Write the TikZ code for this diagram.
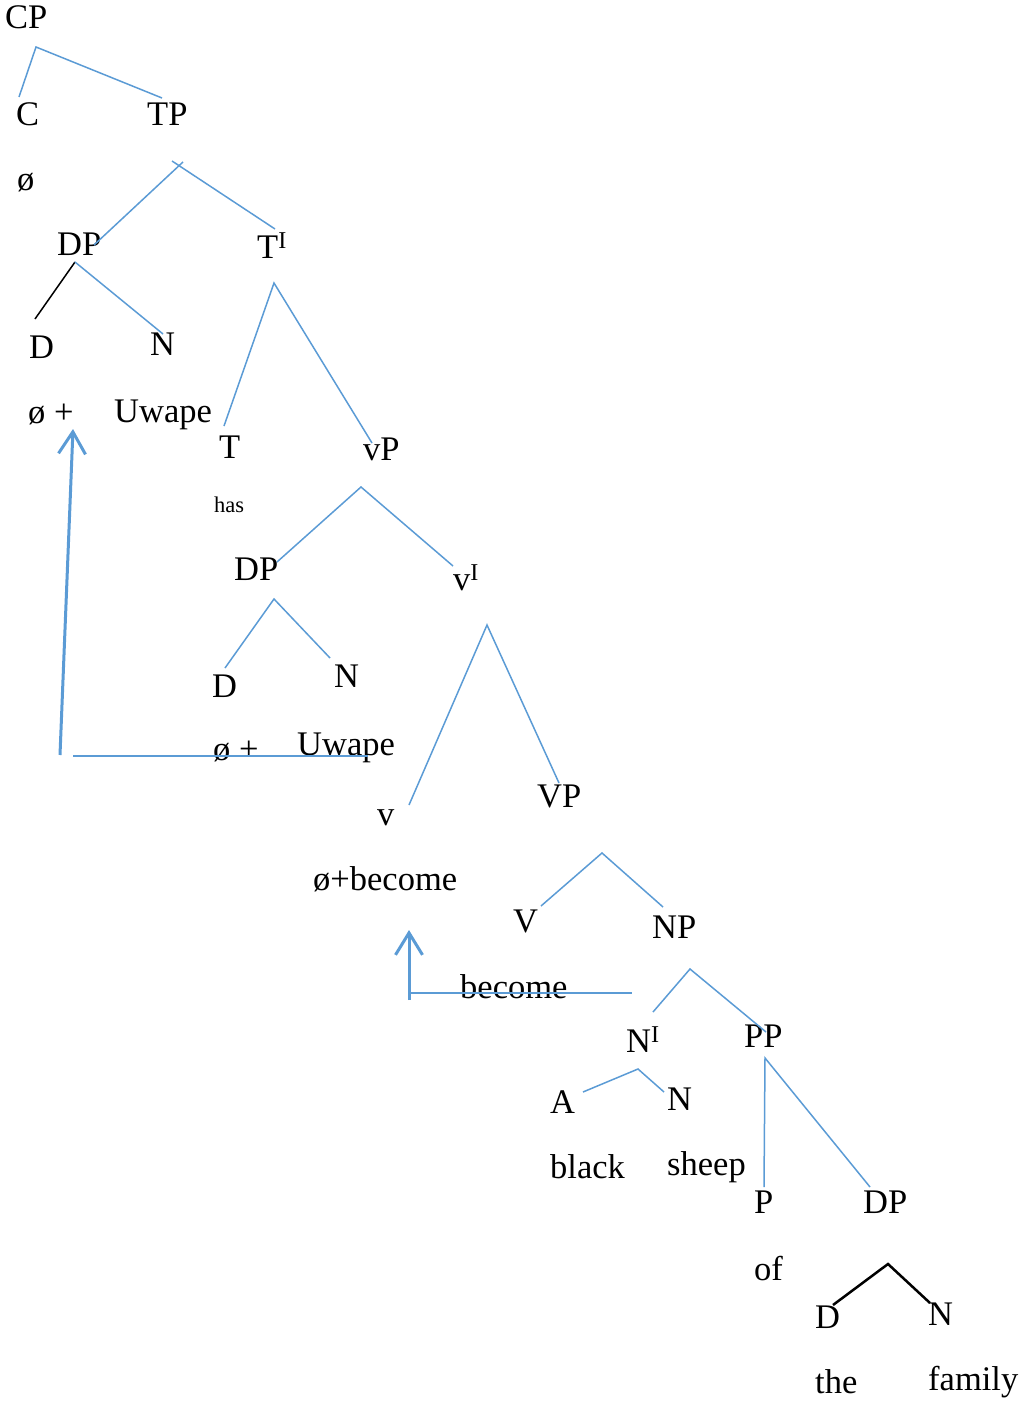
\documentclass[tikz,border=0pt]{standalone}
\usepackage{fontspec}
\setmainfont{Liberation Serif}
\usepackage{xcolor}
\usepackage{tikz}
\usetikzlibrary{arrows.meta, calc, positioning}
\definecolor{treeblue}{HTML}{5B9BD5}

\begin{document}
\begin{tikzpicture}[x=1pt, y=-1pt,
  lbl/.style={anchor=base west, inner sep=0pt, font=\fontsize{34.5}{40}\selectfont},
  smalllbl/.style={lbl, font=\fontsize{22.5}{26}\selectfont},
  branch/.style={treeblue, line width=1.5pt},
  blackbranch/.style={black, line width=1.5pt},
  movebar/.style={treeblue, line width=3pt},
  traceline/.style={treeblue, line width=2pt},
  movetip/.style={-{Straight Barb[length=22pt,width=27pt]}}]
\useasboundingbox (0,0) rectangle (1022,1402);

% Labels
\node[lbl] (cp) at (5,29) {CP};
\node[lbl] (c) at (16,125) {C};
\node[lbl] (tp) at (147,125) {TP};
\node[lbl] (cnull) at (17,190) {ø};
\node[lbl] (dp1) at (57,255) {DP};
\node[lbl] (tbar) at (257,258) {T\textsuperscript{I}};
\node[lbl] (d1) at (29,358) {D};
\node[lbl] (n1) at (150,355) {N};
\node[lbl] (dnull1) at (28,423) {ø +};
\node[lbl] (uwape1) at (114,422) {Uwape};
\node[lbl] (t) at (219,458) {T};
\node[lbl] (littlevp) at (363,460) {vP};
\node[smalllbl] (has) at (214,512) {has};
\node[lbl] (dp2) at (234,580) {DP};
\node[lbl] (vbar) at (453,590) {v\textsuperscript{I}};
\node[lbl] (d2) at (212,697) {D};
\node[lbl] (n2) at (334,687) {N};
\node[lbl] (dnull2) at (213,760) {ø +};
\node[lbl] (uwape2) at (297,755) {Uwape};
\node[lbl] (vhead) at (377,825) {v};
\node[lbl] (bigvp) at (537,807) {VP};
\node[lbl] (vnull) at (313,890) {ø+become};
\node[lbl] (bigv) at (513,932) {V};
\node[lbl] (np) at (652,938) {NP};
\node[lbl] (become) at (460,998) {become};
\node[lbl] (nbar) at (626,1052) {N\textsuperscript{I}};
\node[lbl] (pp) at (744,1047) {PP};
\node[lbl] (a) at (550,1113) {A};
\node[lbl] (n3) at (667,1110) {N};
\node[lbl] (black) at (550,1178) {black};
\node[lbl] (sheep) at (667,1175) {sheep};
\node[lbl] (p) at (754,1213) {P};
\node[lbl] (dp3) at (863,1213) {DP};
\node[lbl] (of) at (754,1280) {of};
\node[lbl] (d3) at (815,1328) {D};
\node[lbl] (n4) at (928,1325) {N};
\node[lbl] (the) at (815,1393) {the};
\node[lbl] (family) at (928,1390) {family};

% Forks and branch ends
\coordinate (cp-fork) at (36,47);
\coordinate (c-end) at (19,97);
\coordinate (tp-end) at (162,98);
\coordinate (tp-fork) at (183,162);
\coordinate (tp-cross) at (172,161);
\coordinate (dp1-end) at (94,245);
\coordinate (tbar-end) at (275,229);
\coordinate (dp1-fork) at (75,262);
\coordinate (d1-end) at (35,319);
\coordinate (n1-end) at (163,334);
\coordinate (tbar-fork) at (274,283);
\coordinate (t-end) at (224,426);
\coordinate (littlevp-end) at (372,443);
\coordinate (littlevp-fork) at (361,487);
\coordinate (dp2-end) at (277,562);
\coordinate (vbar-end) at (453,566);
\coordinate (dp2-fork) at (274,599);
\coordinate (d2-end) at (225,668);
\coordinate (n2-end) at (330,658);
\coordinate (vbar-fork) at (487,625);
\coordinate (vhead-end) at (409,805);
\coordinate (bigvp-end) at (559,783);
\coordinate (bigvp-fork) at (602,853);
\coordinate (bigv-end) at (541,906);
\coordinate (np-end) at (663,907);
\coordinate (np-fork) at (690,969);
\coordinate (nbar-end) at (653,1012);
\coordinate (pp-end) at (766,1032);
\coordinate (nbar-fork) at (638,1069);
\coordinate (a-end) at (583,1092);
\coordinate (n3-end) at (664,1092);
\coordinate (pp-fork) at (765,1058);
\coordinate (p-end) at (764,1187);
\coordinate (dp3-end) at (870,1187);
\coordinate (dp3-fork) at (888,1264);
\coordinate (d3-end) at (833,1305);
\coordinate (n4-end) at (930,1303);

% Branches
\draw[branch] (c-end) -- (cp-fork) -- (tp-end);
\draw[branch] (tp-fork) -- (dp1-end);
\draw[branch] (tp-cross) -- (tbar-end);
\draw[blackbranch] (dp1-fork) -- (d1-end);
\draw[branch] (dp1-fork) -- (n1-end);
\draw[branch] (t-end) -- (tbar-fork) -- (littlevp-end);
\draw[branch] (dp2-end) -- (littlevp-fork) -- (vbar-end);
\draw[branch] (d2-end) -- (dp2-fork) -- (n2-end);
\draw[branch] (vhead-end) -- (vbar-fork) -- (bigvp-end);
\draw[branch] (bigv-end) -- (bigvp-fork) -- (np-end);
\draw[branch] (nbar-end) -- (np-fork) -- (pp-end);
\draw[branch] (a-end) -- (nbar-fork) -- (n3-end);
\draw[branch] (p-end) -- (pp-fork) -- (dp3-end);
\draw[blackbranch, line width=2.5pt] (d3-end) -- (dp3-fork) -- (n4-end);

% Movement of the DP
\coordinate (move1-foot) at (60,755);
\coordinate (move1-tip) at (73,429);
\coordinate (trace1-start) at (73,756);
\coordinate (trace1-end) at (368,756);
\draw[movebar, movetip] (move1-foot) -- (move1-tip);
\draw[traceline] (trace1-start) -- (trace1-end);

% Movement of V to v
\coordinate (move2-foot) at (409,1000);
\coordinate (move2-tip) at (409,930);
\coordinate (trace2-start) at (410,993);
\coordinate (trace2-end) at (632,993);
\draw[movebar, movetip] (move2-foot) -- (move2-tip);
\draw[traceline] (trace2-start) -- (trace2-end);
\end{tikzpicture}
\end{document}
